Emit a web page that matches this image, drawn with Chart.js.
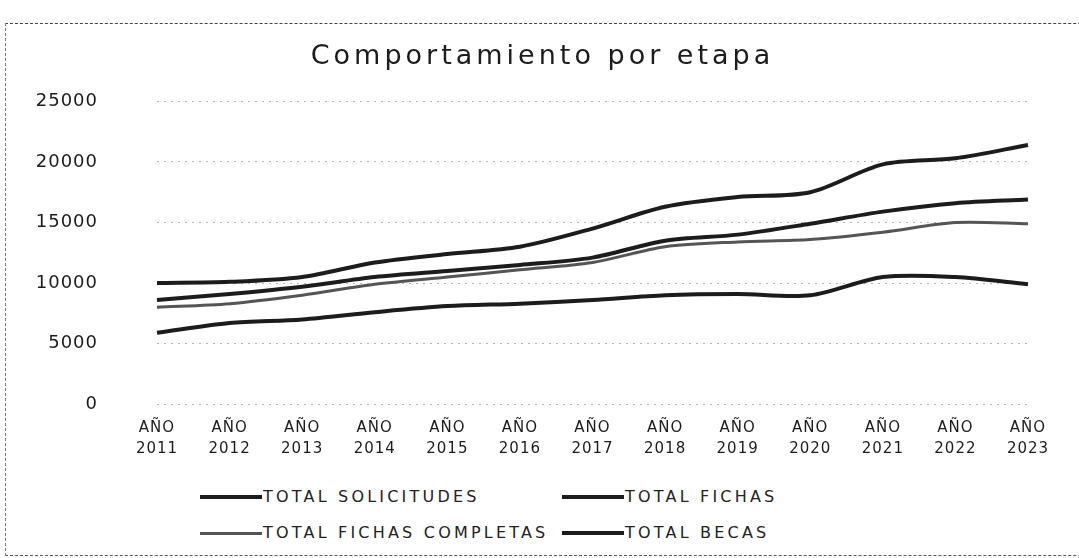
<!DOCTYPE html>
<html lang="es">
<head>
<meta charset="utf-8">
<title>Comportamiento por etapa</title>
<script src="https://cdn.jsdelivr.net/npm/chart.js@4/dist/chart.umd.min.js"></script>
<style>
  html, body { margin: 0; padding: 0; background: #fff; overflow: hidden; }
  .sheet {
    position: relative;
    width: 1079px;
    height: 558px;
    overflow: hidden;
    font-family: "DejaVu Sans", sans-serif;
    color: #222;
  }
  /* marco punteado alrededor del gráfico (el borde derecho queda fuera) */
  .frame {
    position: absolute;
    left: 5px; top: 23px;
    width: 1200px; height: 531px;
    border-top: 1px dashed #444;
    border-left: 1px dashed #777;
    border-bottom: 1px dashed #555;
    border-right: none;
  }
  .chart-box {
    position: absolute;
    left: 6px; top: 22px;
    width: 1073px; height: 452px;
  }
  .legend {
    position: absolute;
    left: 200px; top: 487px;
    display: grid;
    grid-template-columns: 362px auto;
    row-gap: 16px;
    font-size: 16px;
    letter-spacing: 3.2px;
    line-height: 20px;
  }
  .legend__item { display: flex; align-items: center; white-space: nowrap; }
  .legend__line { display: inline-block; width: 62px; margin-right: 1px; }
</style>
</head>
<body>
<div class="sheet">
  <div class="frame"></div>
  <div class="chart-box"><canvas id="etapas"></canvas></div>
  <div class="legend" id="etapasLegend"></div>
</div>

<script>
const years = ['2011', '2012', '2013', '2014', '2015', '2016', '2017',
               '2018', '2019', '2020', '2021', '2022', '2023'];

const totalSolicitudes = [10000, 10100, 10500, 11700, 12400, 13000, 14500,
                          16300, 17100, 17500, 19800, 20300, 21400];
const totalFichas = [8600, 9100, 9700, 10500, 11000, 11500, 12100,
                     13500, 14000, 14900, 15900, 16600, 16900];
const totalFichasCompletas = [8000, 8300, 9000, 9900, 10500, 11100, 11700,
                              13000, 13400, 13600, 14200, 15000, 14900];
const totalBecas = [5900, 6700, 7000, 7600, 8100, 8300, 8600,
                    9000, 9100, 9000, 10500, 10500, 9900];

const yTicks = [0, 5000, 10000, 15000, 20000, 25000];

const ink = '#1c1c1c';

// el texto del canvas lleva un poco de espaciado entre letras
const letterSpacing = {
  id: 'letterSpacing',
  beforeLayout(chart) { chart.ctx.letterSpacing = '1px'; },
  beforeDraw(chart) { chart.ctx.letterSpacing = '1px'; },
};

// título centrado sobre todo el lienzo y más espaciado
const wideTitle = {
  id: 'wideTitle',
  afterLayout(chart) {
    const tb = chart.titleBlock;
    if (!tb) return;
    tb.left = 0;
    tb.right = chart.width;
    tb.width = chart.width;
    if (!tb._spaced) {
      const draw = tb.draw.bind(tb);
      tb.draw = (...args) => {
        const ctx = chart.ctx;
        const prev = ctx.letterSpacing;
        ctx.letterSpacing = '4px';
        draw(...args);
        ctx.letterSpacing = prev;
      };
      tb._spaced = true;
    }
  },
};

const series = [
  { label: 'TOTAL SOLICITUDES', data: totalSolicitudes, color: ink, width: 4 },
  { label: 'TOTAL FICHAS', data: totalFichas, color: ink, width: 4 },
  { label: 'TOTAL FICHAS COMPLETAS', data: totalFichasCompletas, color: '#555', width: 3 },
  { label: 'TOTAL BECAS', data: totalBecas, color: ink, width: 4 },
];

const chart = new Chart(document.getElementById('etapas'), {
  type: 'line',
  data: {
    labels: years.map(y => ['AÑO', y]),
    datasets: series.map(s => ({
      label: s.label,
      data: s.data,
      borderColor: s.color,
      backgroundColor: s.color,
      borderWidth: s.width,
      pointRadius: 0,
      pointHoverRadius: 0,
      tension: 0.3,
      fill: false,
    })),
  },
  options: {
    responsive: true,
    maintainAspectRatio: false,
    animation: false,
    layout: { padding: { left: 11, right: 51, top: 0, bottom: 0 } },
    plugins: {
      legend: { display: false },
      tooltip: { enabled: false },
      title: {
        display: true,
        text: 'Comportamiento por etapa',
        color: ink,
        font: { family: 'DejaVu Sans', size: 27, weight: 'normal', lineHeight: 1.2 },
        padding: { top: 19, bottom: 28 },
      },
    },
    scales: {
      x: {
        offset: false,
        grid: { display: false, drawTicks: false },
        border: { display: false },
        ticks: {
          color: ink,
          autoSkip: false,
          maxRotation: 0,
          minRotation: 0,
          padding: 13,
          font: { family: 'DejaVu Sans', size: 15, lineHeight: 1.4 },
        },
      },
      y: {
        min: 0,
        max: 25000,
        afterFit: scale => { scale.width = 140; },
        afterBuildTicks: scale => { scale.ticks = yTicks.map(v => ({ value: v })); },
        grid: { color: '#b5b5b5', lineWidth: 1, drawTicks: false },
        border: { display: false, dash: [2, 5] },
        ticks: {
          color: ink,
          padding: 59,
          font: { family: 'DejaVu Sans', size: 18 },
          callback: v => String(v),
        },
      },
    },
  },
  plugins: [letterSpacing, wideTitle],
});

// leyenda en dos columnas debajo del gráfico
const legendEl = document.getElementById('etapasLegend');
legendEl.innerHTML = chart.data.datasets.map(ds => `
  <div class="legend__item">
    <span class="legend__line" style="height:${ds.borderWidth}px;background:${ds.borderColor}"></span>
    <span>${ds.label}</span>
  </div>
`).join('');
</script>
</body>
</html>
